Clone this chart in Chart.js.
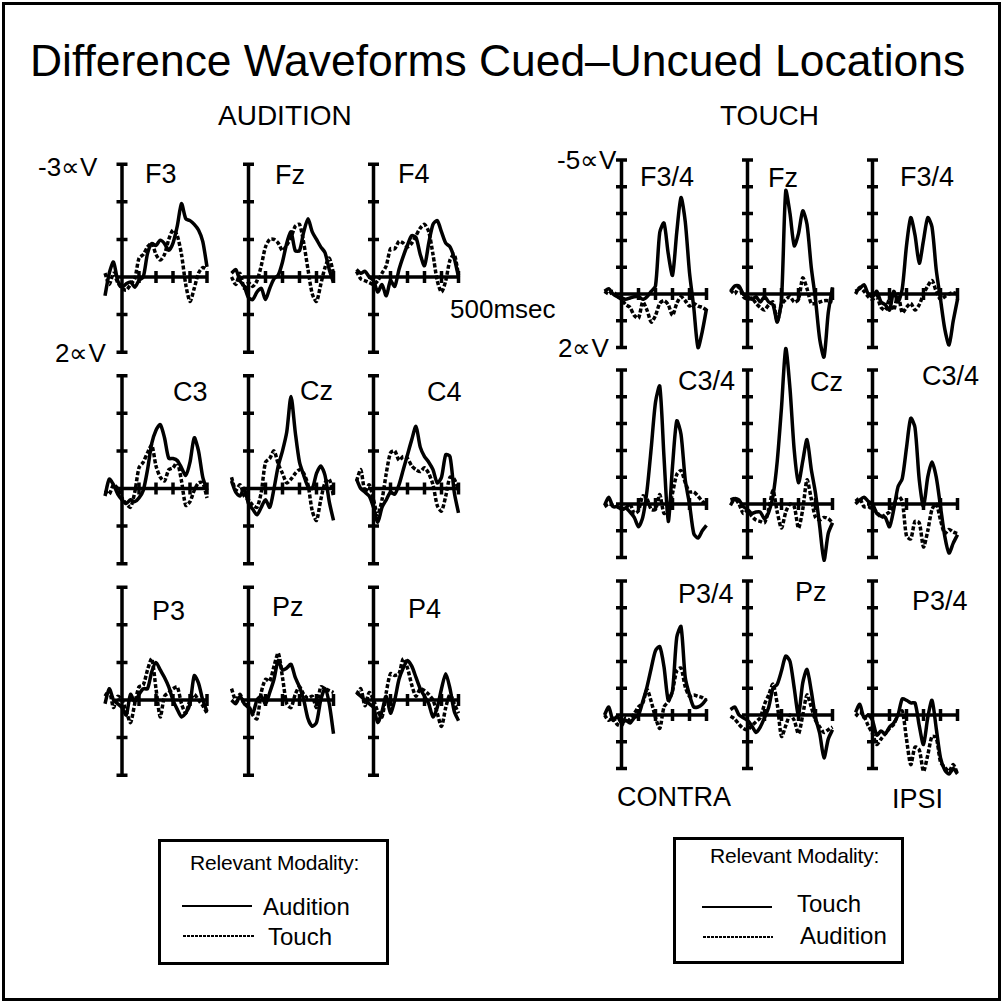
<!DOCTYPE html>
<html><head><meta charset="utf-8">
<script src="https://cdn.jsdelivr.net/npm/chart.js@4"></script>
<style>
html,body{margin:0;padding:0;background:#fff;}
body{width:1004px;height:1003px;position:relative;overflow:hidden;font-family:"Liberation Sans",Arial,Helvetica,sans-serif;color:#000;}
.t{position:absolute;white-space:nowrap;line-height:1;}
canvas{position:absolute;}
.frame{position:absolute;left:2px;top:2px;width:999px;height:999px;border:3px solid #000;box-sizing:border-box;}
.lg{position:absolute;border:3px solid #000;box-sizing:border-box;}
.ls{position:absolute;height:2px;background:#000;}
.ld{position:absolute;height:2px;background:repeating-linear-gradient(to right,#000 0 3px,transparent 3px 4px);}
</style></head><body>
<div class="frame"></div>
<div class="t" style="left:30px;top:39px;font-size:44.4px;">Difference Waveforms Cued–Uncued Locations</div>
<div class="t" style="left:218px;top:102px;font-size:28px;">AUDITION</div>
<div class="t" style="left:720px;top:102px;font-size:28px;">TOUCH</div>
<div class="t" style="left:38px;top:154px;font-size:26px;">-3∝V</div>
<div class="t" style="left:55px;top:340px;font-size:26px;">2∝V</div>
<div class="t" style="left:557px;top:147px;font-size:26px;">-5∝V</div>
<div class="t" style="left:558px;top:335px;font-size:26px;">2∝V</div>
<div class="t" style="left:450px;top:296px;font-size:26px;">500msec</div>
<div class="t" style="left:145px;top:161px;font-size:27px;">F3</div>
<div class="t" style="left:275px;top:162px;font-size:27px;">Fz</div>
<div class="t" style="left:398px;top:161px;font-size:27px;">F4</div>
<div class="t" style="left:173px;top:379px;font-size:27px;">C3</div>
<div class="t" style="left:300px;top:378px;font-size:27px;">Cz</div>
<div class="t" style="left:427px;top:379px;font-size:27px;">C4</div>
<div class="t" style="left:152px;top:598px;font-size:27px;">P3</div>
<div class="t" style="left:272px;top:594px;font-size:27px;">Pz</div>
<div class="t" style="left:408px;top:596px;font-size:27px;">P4</div>
<div class="t" style="left:640px;top:164px;font-size:27px;">F3/4</div>
<div class="t" style="left:768px;top:165px;font-size:27px;">Fz</div>
<div class="t" style="left:900px;top:164px;font-size:27px;">F3/4</div>
<div class="t" style="left:678px;top:368px;font-size:27px;">C3/4</div>
<div class="t" style="left:810px;top:369px;font-size:27px;">Cz</div>
<div class="t" style="left:922px;top:363px;font-size:27px;">C3/4</div>
<div class="t" style="left:678px;top:581px;font-size:27px;">P3/4</div>
<div class="t" style="left:795px;top:579px;font-size:27px;">Pz</div>
<div class="t" style="left:912px;top:588px;font-size:27px;">P3/4</div>
<div class="t" style="left:617px;top:784px;font-size:27px;">CONTRA</div>
<div class="t" style="left:892px;top:786px;font-size:27px;">IPSI</div>

<div class="lg" style="left:158px;top:839px;width:231px;height:126px;"></div>
<div class="t" style="left:190px;top:852px;font-size:21px;letter-spacing:-0.2px;">Relevant Modality:</div>
<div class="ls" style="left:182px;top:905px;width:70px;"></div>
<div class="t" style="left:263px;top:895px;font-size:24px;">Audition</div>
<div class="ld" style="left:183px;top:935px;width:72px;"></div>
<div class="t" style="left:268px;top:925px;font-size:24px;">Touch</div>

<div class="lg" style="left:673px;top:837px;width:231px;height:127px;"></div>
<div class="t" style="left:710px;top:845px;font-size:21px;letter-spacing:-0.2px;">Relevant Modality:</div>
<div class="ls" style="left:702px;top:906px;width:70px;"></div>
<div class="t" style="left:797px;top:892px;font-size:24px;">Touch</div>
<div class="ld" style="left:703px;top:936px;width:70px;"></div>
<div class="t" style="left:800px;top:924px;font-size:24px;">Audition</div>

<script>
// ---- data (µV, negative plotted up) ----
const times = [-100,-75,-50,-25,0,25,50,75,100,125,150,175,200,225,250,275,300,325,350,375,400,425,450,475,500];
const yTicksAudition = [-3,-2,-1,0,1,2];
const yTicksTouch = [-5,-4,-3,-2,-1,0,1,2];
const xTicks = [100,200,300,400,500];

// AUDITION section: solid = Audition relevant, dashed = Touch relevant
const audF3_A = [0.5,-0.1,-0.4,0.1,0.27,0.18,0.13,0.27,0.09,0.0,-0.62,-0.89,-0.84,-0.98,-0.89,-0.71,-0.9,-1.35,-1.95,-1.55,-1.5,-1.4,-1.25,-0.95,-0.27];
const audF3_T = [-0.1,0.2,-0.1,0.15,0.3,0.35,0.2,0.05,-0.5,-0.6,-0.8,-0.9,-0.6,-0.45,-0.6,-1.0,-1.25,-1.1,-0.6,0.2,0.65,0.3,-0.1,-0.25,-0.2];
const audFz_A = [-0.1,-0.2,0.1,0.25,0.55,0.6,0.4,0.3,0.6,0.3,0.05,-0.05,-0.4,-0.9,-1.2,-0.7,-0.7,-1.2,-1.55,-1.2,-1.0,-0.8,-0.65,-0.2,0.15];
const audFz_T = [0.0,0.2,-0.1,0.3,0.15,0.25,0.1,-0.3,-0.8,-1.0,-1.0,-0.9,-0.7,-0.85,-1.05,-1.35,-1.4,-0.9,-0.2,0.45,0.65,0.2,-0.25,-0.5,-0.1];
const audF4_A = [-0.2,-0.1,-0.15,0.0,0.1,0.4,0.2,0.5,0.1,0.25,-0.2,-0.55,-0.85,-1.1,-1.05,-0.6,-0.3,-0.9,-1.4,-1.5,-1.2,-0.9,-0.8,-0.5,0.0];
const audF4_T = [-0.15,0.05,0.1,0.15,0.2,0.1,-0.1,-0.3,-0.75,-0.75,-0.95,-0.9,-0.8,-0.9,-1.1,-1.3,-1.4,-1.2,-0.6,0.1,0.4,0.1,-0.45,-0.6,-0.05];
const audC3_A = [0.2,-0.25,-0.1,0.15,0.3,0.4,0.3,0.35,0.25,0.05,-0.5,-1.2,-1.55,-1.7,-1.35,-0.8,-0.8,-0.75,-0.55,-0.35,-0.7,-1.35,-1.0,-0.3,0.05];
const audC3_T = [0.05,0.15,-0.1,0.0,0.25,0.4,0.5,0.1,-0.55,-0.7,-0.95,-1.15,-0.6,-0.3,-0.2,-0.5,-0.55,-0.7,-0.2,0.45,0.35,0.05,-0.15,-0.15,0.25];
const audCz_A = [-0.2,0.1,0.2,0.0,0.4,0.55,0.7,0.5,0.3,0.5,0.0,-0.6,-1.0,-1.5,-2.45,-1.5,-0.7,-0.35,-0.05,0.0,-0.4,-0.6,-0.35,0.35,0.85];
const audCz_T = [-0.3,0.05,-0.1,0.2,0.3,0.45,0.5,0.1,-0.7,-0.8,-1.0,-0.65,-0.4,-0.15,-0.25,-0.4,-0.5,-0.4,-0.1,0.6,0.85,0.3,-0.15,-0.25,0.2];
const audC4_A = [-0.25,0.0,0.1,0.2,0.5,0.9,0.5,0.3,0.1,0.15,-0.1,-0.5,-0.9,-1.3,-1.65,-1.1,-0.85,-0.7,-0.5,-0.15,-0.3,-0.9,-0.85,0.1,0.65];
const audC4_T = [-0.2,-0.5,0.1,-0.1,0.3,0.7,0.3,-0.4,-0.95,-1.0,-0.75,-0.85,-0.8,-0.6,-0.5,-0.45,-0.55,-0.4,-0.1,0.45,0.6,0.2,-0.3,-0.25,0.05];
const audP3_A = [0.1,-0.3,0.0,0.1,0.2,0.4,-0.15,0.05,-0.15,-0.3,-0.3,-0.75,-1.0,-0.8,-0.6,-0.35,0.0,0.25,0.45,0.35,0.1,-0.65,-0.45,0.0,0.3];
const audP3_T = [-0.1,-0.25,0.2,-0.1,0.0,0.3,0.6,0.1,-0.35,-0.4,-0.8,-1.1,-0.3,0.45,-0.1,-0.2,-0.3,-0.35,0.1,0.35,0.0,-0.15,0.0,0.15,0.35];
const audPz_A = [0.0,0.1,-0.1,0.1,0.2,0.35,0.0,-0.1,0.1,-0.2,-0.55,-1.05,-0.8,-0.85,-0.95,-0.6,-0.35,0.0,0.5,0.7,0.6,0.0,-0.3,0.1,0.9];
const audPz_T = [-0.3,0.0,-0.15,0.1,0.15,0.4,0.5,-0.2,-0.55,-0.5,-0.9,-1.25,-0.6,0.1,0.2,-0.15,-0.35,-0.15,-0.05,-0.1,0.2,-0.35,-0.3,-0.25,-0.2];
const audP4_A = [-0.2,-0.1,0.0,0.1,0.2,0.6,0.3,-0.1,0.35,0.0,-0.55,-0.85,-1.05,-0.9,-0.6,-0.3,-0.1,0.1,0.45,0.2,-0.3,-0.7,-0.3,0.3,0.55];
const audP4_T = [-0.15,-0.3,0.15,-0.2,0.0,0.3,0.45,-0.2,-0.7,-0.65,-0.7,-1.1,-0.85,-0.4,-0.1,-0.3,-0.25,-0.15,0.0,0.35,0.7,0.2,-0.15,0.1,0.35];

// TOUCH section: solid = Touch relevant, dashed = Audition relevant
const touF34c_T = [-0.1,-0.2,0.0,0.1,0.15,0.2,0.15,0.1,0.1,0.2,0.1,-0.1,-0.3,-2.3,-2.65,-1.5,-0.7,-2.3,-3.6,-2.7,-0.8,0.5,2.0,1.4,0.55];
const touF34c_A = [-0.1,0.0,-0.1,0.1,0.2,0.4,0.5,0.8,0.9,0.3,0.6,1.05,0.8,0.35,0.25,0.4,0.8,0.35,0.1,0.25,0.45,0.35,0.45,0.5,0.6];
const touFz_T = [-0.1,-0.3,-0.3,0.0,0.1,0.2,0.1,0.3,0.1,0.3,0.4,1.05,0.2,-3.85,-3.0,-1.8,-2.25,-3.1,-2.6,-1.0,0.2,1.7,2.35,0.7,-0.25];
const touFz_A = [-0.15,0.0,-0.25,0.1,0.2,0.15,0.35,0.5,0.6,0.4,0.3,1.0,0.4,0.2,0.1,0.3,0.2,-0.6,-0.2,0.35,0.35,0.3,0.25,0.25,0.3];
const touF34i_T = [-0.1,-0.2,-0.35,0.0,0.1,-0.1,0.3,0.4,0.6,-0.1,0.3,-0.2,-1.8,-2.85,-2.2,-1.15,-2.0,-2.85,-2.5,-0.9,0.2,1.3,1.9,1.0,0.2];
const touF34i_A = [0.0,-0.25,-0.1,0.1,0.2,0.1,0.5,0.6,0.2,0.6,0.0,0.7,0.5,0.35,0.6,0.4,0.0,-0.3,-0.5,-0.1,0.2,0.1,0.0,-0.05,0.0];
const touC34c_T = [0.05,-0.25,0.1,0.1,0.2,0.15,0.3,0.5,0.85,0.5,-0.5,-2.1,-3.8,-4.4,-1.75,0.65,-1.4,-3.1,-2.6,-0.9,0.0,1.1,1.27,1.0,0.8];
const touC34c_A = [0.1,0.0,0.05,0.1,0.2,0.15,0.0,0.35,0.25,-0.3,-0.2,0.2,0.2,-0.35,0.35,0.2,-0.4,-1.1,-1.25,-0.8,-0.45,-0.45,-0.3,-0.1,0.0];
const touCz_T = [0.05,-0.2,-0.15,0.1,0.2,0.35,0.3,0.3,0.55,0.3,-0.3,-1.6,-3.6,-5.8,-4.3,-2.0,-0.8,-1.6,-2.4,-1.3,-0.4,0.85,2.1,1.1,0.7];
const touCz_A = [-0.15,-0.2,0.0,0.35,0.25,0.45,0.6,0.65,0.7,0.2,-0.5,0.3,0.9,0.3,0.0,0.1,0.9,0.2,-0.9,-0.2,0.5,0.6,0.5,0.55,0.7];
const touC34i_T = [0.0,-0.15,-0.25,-0.1,0.0,0.35,0.45,0.5,0.85,0.2,-0.64,-0.95,-2.1,-3.2,-2.85,-0.9,0.1,-1.0,-1.57,-1.0,0.1,1.2,1.83,1.46,1.15];
const touC34i_A = [-0.1,-0.2,0.1,0.1,0.2,0.3,0.5,0.4,0.3,0.05,-0.3,-0.1,1.2,1.3,0.65,0.7,1.6,1.0,0.2,0.0,0.6,1.1,0.95,1.05,1.1];
const touP34c_T = [0.0,-0.3,0.2,0.05,0.3,0.2,0.3,0.1,0.0,-0.5,-1.05,-1.75,-2.4,-2.55,-1.8,-0.55,-0.9,-2.9,-3.3,-1.4,-0.75,-0.3,-0.3,-0.4,-0.6];
const touP34c_A = [0.0,0.2,0.1,0.35,0.4,0.1,0.2,-0.05,-0.3,-0.45,-0.95,-0.5,0.1,0.5,-0.3,-0.5,-0.9,-1.65,-1.75,-1.05,-0.7,-0.75,-0.7,-0.65,-0.55];
const touPz_T = [-0.2,-0.3,0.0,0.1,0.2,0.4,0.65,0.45,0.1,-0.3,-1.0,-1.15,-1.65,-2.2,-2.0,-1.0,0.0,-1.2,-1.7,-0.9,0.1,0.7,1.6,0.9,0.55];
const touPz_A = [0.05,0.15,0.35,0.5,0.55,0.4,0.25,0.1,-0.4,-0.75,-1.15,-0.4,0.8,0.4,0.0,0.2,0.7,0.0,-0.75,-0.3,0.2,0.45,0.65,0.55,0.45];
const touP34i_T = [-0.1,-0.4,0.1,0.0,0.2,0.75,0.6,0.7,0.45,0.3,0.0,-0.6,-0.55,-0.45,-0.45,0.4,1.1,0.1,-0.55,0.5,1.6,2.05,2.2,2.0,2.2];
const touP34i_A = [0.05,-0.1,0.05,0.4,0.7,1.1,0.9,0.7,0.5,0.35,0.0,-0.15,0.9,1.85,1.2,1.3,2.1,1.5,0.8,0.85,1.75,1.95,2.1,1.85,2.2];

const auditionPanels = [
  [audF3_A, audF3_T], [audFz_A, audFz_T], [audF4_A, audF4_T],
  [audC3_A, audC3_T], [audCz_A, audCz_T], [audC4_A, audC4_T],
  [audP3_A, audP3_T], [audPz_A, audPz_T], [audP4_A, audP4_T]
];
const touchPanels = [
  [touF34c_T, touF34c_A], [touFz_T, touFz_A], [touF34i_T, touF34i_A],
  [touC34c_T, touC34c_A], [touCz_T, touCz_A], [touC34i_T, touC34i_A],
  [touP34c_T, touP34c_A], [touPz_T, touPz_A], [touP34i_T, touP34i_A]
];

// ---- layout (pixels) ----
const PX_MS = 0.17;
const T_LO = -150, T_HI = 550;
const GEO = {
  audition: {cols:[122,248.5,373.5], rows:[277,488.5,700], pxUV:37.6, vLo:-3.6, vHi:2.6, ticks:yTicksAudition},
  touch:    {cols:[621.5,747.5,872.5], rows:[294,504,715], pxUV:26.8, vLo:-6.4, vHi:2.9, ticks:yTicksTouch}
};

const axesPlugin = {
  id: 'erpAxes',
  beforeDatasetsDraw(chart, args, opts) {
    const {ctx} = chart;
    const xs = chart.scales.x, ys = chart.scales.y;
    const x0 = xs.getPixelForValue(0), y0 = ys.getPixelForValue(0);
    const tk = opts.ticks;
    ctx.save();
    ctx.strokeStyle = '#000';
    ctx.lineWidth = 3.5;
    ctx.lineCap = 'butt';
    ctx.beginPath();
    ctx.moveTo(x0, ys.getPixelForValue(tk[0]) - 1.75);
    ctx.lineTo(x0, ys.getPixelForValue(tk[tk.length - 1]) + 1.75);
    tk.forEach(v => { const p = ys.getPixelForValue(v); ctx.moveTo(x0 - 5.5, p); ctx.lineTo(x0 + 5.5, p); });
    ctx.moveTo(x0, y0);
    ctx.lineTo(xs.getPixelForValue(xTicks[xTicks.length - 1]) + 1.75, y0);
    xTicks.forEach(t => { const p = xs.getPixelForValue(t); ctx.moveTo(p, y0 - 6); ctx.lineTo(p, y0 + 6); });
    ctx.stroke();
    ctx.restore();
  }
};

function makePanel(group, idx, solid, dashed) {
  const g = GEO[group];
  const x0 = g.cols[idx % 3], y0 = g.rows[Math.floor(idx / 3)];
  const left = Math.round(x0 + T_LO * PX_MS), width = Math.round((T_HI - T_LO) * PX_MS);
  const top = Math.round(y0 + g.vLo * g.pxUV), height = Math.round((g.vHi - g.vLo) * g.pxUV);
  const xmin = (left - x0) / PX_MS, xmax = xmin + width / PX_MS;
  const ymin = (top - y0) / g.pxUV, ymax = ymin + height / g.pxUV;
  const c = document.createElement('canvas');
  c.width = width; c.height = height;
  c.style.left = left + 'px'; c.style.top = top + 'px';
  c.style.width = width + 'px'; c.style.height = height + 'px';
  document.body.appendChild(c);
  new Chart(c, {
    type: 'line',
    data: {
      datasets: [
        {data: times.map((t, i) => ({x: t, y: dashed[i]})), borderColor: '#000', borderWidth: 3.5, borderDash: [4, 2], pointRadius: 0, tension: 0.25, fill: false},
        {data: times.map((t, i) => ({x: t, y: solid[i]})), borderColor: '#000', borderWidth: 3.5, pointRadius: 0, tension: 0.25, fill: false}
      ]
    },
    options: {
      responsive: false, animation: false, events: [],
      layout: {padding: 0},
      scales: {
        x: {type: 'linear', min: xmin, max: xmax, display: false},
        y: {type: 'linear', min: ymin, max: ymax, reverse: true, display: false}
      },
      plugins: {legend: {display: false}, tooltip: {enabled: false}, erpAxes: {ticks: g.ticks}}
    },
    plugins: [axesPlugin]
  });
}

auditionPanels.forEach((p, i) => makePanel('audition', i, p[0], p[1]));
touchPanels.forEach((p, i) => makePanel('touch', i, p[0], p[1]));
</script>
</body></html>
